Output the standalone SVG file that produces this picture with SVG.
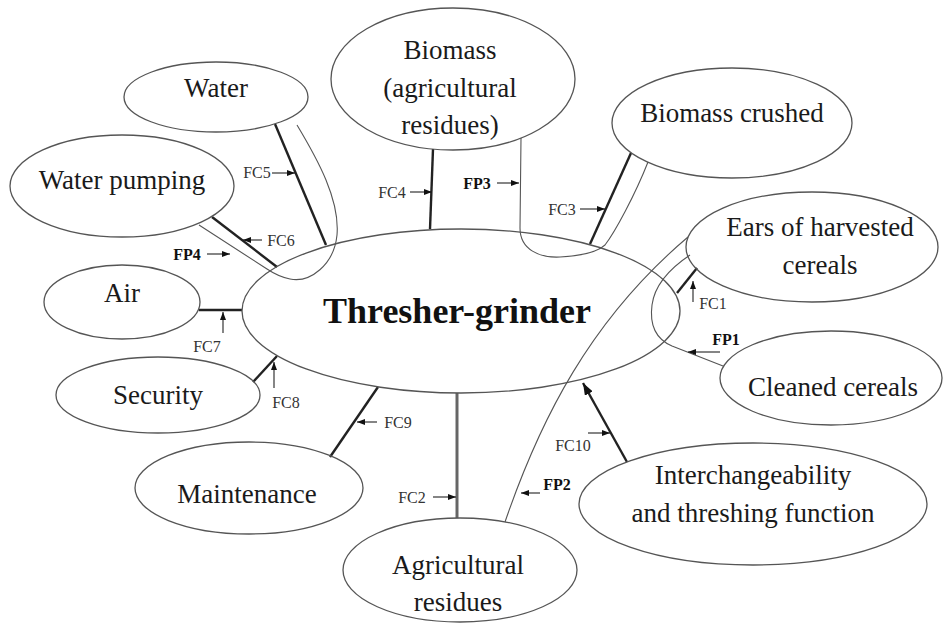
<svg xmlns="http://www.w3.org/2000/svg" width="943" height="625" viewBox="0 0 943 625">
<defs>
<style>
.node ellipse{fill:none;stroke:#555;stroke-width:1.3}
.lbl{font-family:"Liberation Serif","Times New Roman",serif;font-size:27px;fill:#1a1a1a;text-anchor:middle}
.main{font-family:"Liberation Serif","Times New Roman",serif;font-size:36px;font-weight:bold;fill:#111;text-anchor:middle}
.fc{font-family:"Liberation Serif","Times New Roman",serif;font-size:16px;fill:#333;text-anchor:middle}
.fp{font-family:"Liberation Serif","Times New Roman",serif;font-size:16px;font-weight:bold;fill:#111;text-anchor:middle}
.thick{stroke:#222;stroke-width:2.4;fill:none}
.grey{stroke:#666;stroke-width:3;fill:none}
.thin{stroke:#555;stroke-width:1.1;fill:none}
.arr{stroke:#222;stroke-width:1.1;fill:none;marker-end:url(#ah)}
</style>
<marker id="ah" markerUnits="userSpaceOnUse" markerWidth="8" markerHeight="6" refX="8" refY="3" orient="auto"><path d="M0,0 L8,3 L0,6 Z" fill="#111"/></marker>
<marker id="ahb" markerUnits="userSpaceOnUse" markerWidth="12" markerHeight="9" refX="12" refY="4.5" orient="auto"><path d="M0,0 L12,4.5 L0,9 Z" fill="#111"/></marker>
</defs>
<rect width="943" height="625" fill="#fff"/>

<g id="connectors">
<!-- FC5 water -->
<line class="thick" x1="275" y1="124" x2="326" y2="245"/>
<path class="thin" d="M297,125 C318,160 340,200 337,235 C334,265 310,283 290,279 C280,277 273,273 267,269 L199,225"/>
<!-- FC6 water pumping -->
<line class="thick" x1="212" y1="217" x2="277" y2="267"/>
<!-- FC4 -->
<line class="thick" x1="433" y1="149" x2="430" y2="229"/>
<!-- FP3 -->
<path class="thin" d="M521,138 L520,228 C520,250 540,258 560,257 C580,256 597,252 605,245 C615,232 635,195 648,162"/>
<!-- FC3 -->
<line class="thick" x1="631" y1="153" x2="590" y2="244"/>
<!-- FC1 -->
<line class="thick" x1="697" y1="268" x2="677" y2="293"/>
<!-- FP1 loop -->
<path class="thin" d="M690,255 C675,265 655,282 652,305 C649,328 658,340 672,346 L723,366"/>
<!-- FP2 -->
<path class="thin" d="M505,522 C540,420 590,320 688,237"/>
<!-- FC7 -->
<line class="thick" x1="199" y1="310" x2="242" y2="310"/>
<!-- FC8 -->
<line class="thick" x1="253" y1="382" x2="277" y2="356"/>
<!-- FC9 -->
<line class="thick" x1="330" y1="457" x2="378" y2="387"/>
<!-- FC2 -->
<line class="grey" x1="457" y1="393" x2="457" y2="518"/>
<!-- FC10 -->
<line class="thick" x1="627" y1="462" x2="583" y2="383" marker-end="url(#ahb)"/>

<!-- small arrows -->
<line class="arr" x1="272" y1="173" x2="295" y2="173"/>
<line class="arr" x1="262" y1="240" x2="243" y2="240"/>
<line class="arr" x1="207" y1="254" x2="230" y2="254"/>
<line class="arr" x1="410" y1="192" x2="432" y2="192"/>
<line class="arr" x1="497" y1="183" x2="519" y2="183"/>
<line class="arr" x1="580" y1="209" x2="605" y2="209"/>
<line class="arr" x1="693" y1="302" x2="693" y2="281"/>
<line class="arr" x1="720" y1="352" x2="688" y2="352"/>
<line class="arr" x1="223" y1="333" x2="223" y2="312"/>
<line class="arr" x1="274" y1="388" x2="274" y2="362"/>
<line class="arr" x1="377" y1="422" x2="357" y2="422"/>
<line class="arr" x1="433" y1="497" x2="456" y2="497"/>
<line class="arr" x1="588" y1="433" x2="610" y2="433"/>
<line class="arr" x1="540" y1="493" x2="521" y2="493"/>

<!-- connector labels -->
<text class="fc" x="257" y="178">FC5</text>
<text class="fc" x="281" y="246">FC6</text>
<text class="fp" x="187" y="260">FP4</text>
<text class="fc" x="392" y="198">FC4</text>
<text class="fp" x="477" y="189">FP3</text>
<text class="fc" x="562" y="215">FC3</text>
<text class="fc" x="713" y="309">FC1</text>
<text class="fp" x="726" y="345">FP1</text>
<text class="fc" x="207" y="352">FC7</text>
<text class="fc" x="286" y="408">FC8</text>
<text class="fc" x="398" y="428">FC9</text>
<text class="fc" x="412" y="503">FC2</text>
<text class="fc" x="573" y="451">FC10</text>
<text class="fp" x="557" y="490">FP2</text>
</g>

<g id="thresher-grinder" class="node">
<ellipse cx="461" cy="311" rx="219" ry="82"/>
<text class="main" x="457" y="323">Thresher-grinder</text>
</g>
<g id="water" class="node">
<ellipse cx="216" cy="97" rx="92" ry="35"/>
<text class="lbl" x="216" y="97">Water</text>
</g>
<g id="water-pumping" class="node">
<ellipse cx="122" cy="186" rx="112" ry="51"/>
<text class="lbl" x="122" y="189">Water pumping</text>
</g>
<g id="biomass" class="node">
<ellipse cx="453" cy="79" rx="122" ry="71"/>
<text class="lbl" x="450" y="59">Biomass</text>
<text class="lbl" x="450" y="97">(agricultural</text>
<text class="lbl" x="450" y="134">residues)</text>
</g>
<g id="biomass-crushed" class="node">
<ellipse cx="732" cy="123" rx="120" ry="55"/>
<text class="lbl" x="732" y="122">Biomass crushed</text>
</g>
<g id="ears" class="node">
<ellipse cx="812" cy="247" rx="126" ry="55"/>
<text class="lbl" x="820" y="236">Ears of harvested</text>
<text class="lbl" x="820" y="274">cereals</text>
</g>
<g id="cleaned-cereals" class="node">
<ellipse cx="831" cy="378" rx="111" ry="47"/>
<text class="lbl" x="833" y="396">Cleaned cereals</text>
</g>
<g id="interchangeability" class="node">
<ellipse cx="753" cy="504" rx="174" ry="61"/>
<text class="lbl" x="753" y="484">Interchangeability</text>
<text class="lbl" x="753" y="522">and threshing function</text>
</g>
<g id="agricultural-residues" class="node">
<ellipse cx="460" cy="570" rx="117" ry="52"/>
<text class="lbl" x="458" y="574">Agricultural</text>
<text class="lbl" x="458" y="611">residues</text>
</g>
<g id="maintenance" class="node">
<ellipse cx="249" cy="488" rx="114" ry="46"/>
<text class="lbl" x="247" y="503">Maintenance</text>
</g>
<g id="security" class="node">
<ellipse cx="158" cy="395" rx="102" ry="38"/>
<text class="lbl" x="158" y="404">Security</text>
</g>
<g id="air" class="node">
<ellipse cx="122" cy="302" rx="78" ry="37"/>
<text class="lbl" x="122" y="302">Air</text>
</g>
</svg>
